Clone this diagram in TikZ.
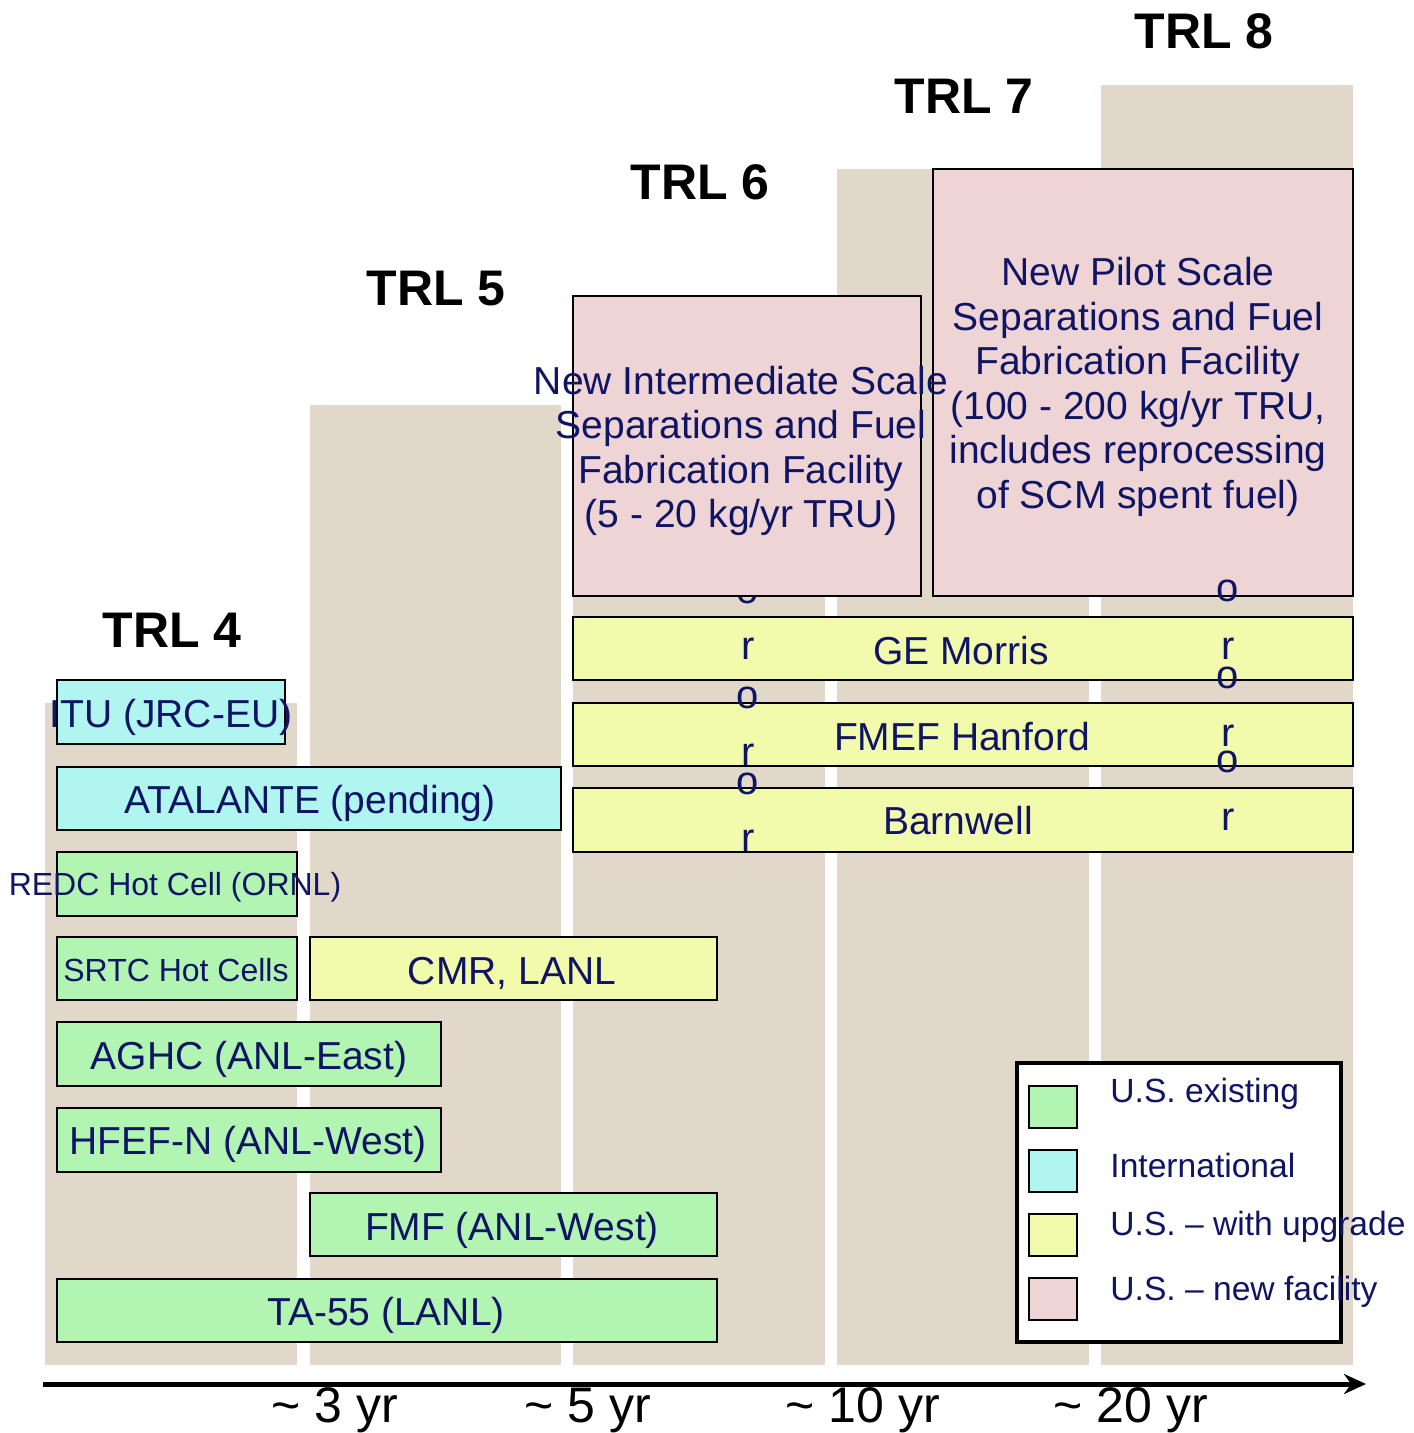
\documentclass[tikz,border=0pt]{standalone}
\usepackage{fontspec}
\setmainfont{Liberation Sans}
\usetikzlibrary{arrows.meta}
\definecolor{beige}{RGB}{225,216,201}
\definecolor{gfill}{RGB}{178,245,178}
\definecolor{cfill}{RGB}{176,245,240}
\definecolor{yfill}{RGB}{242,250,172}
\definecolor{pfill}{RGB}{238,212,212}
\definecolor{navy}{RGB}{16,20,100}
\tikzset{
  col/.style={fill=beige, draw=none},
  gbox/.style={draw=black, line width=1pt, fill=gfill},
  cbox/.style={draw=black, line width=1pt, fill=cfill},
  ybox/.style={draw=black, line width=1pt, fill=yfill},
  pbox/.style={draw=black, line width=1pt, fill=pfill},
  lbl/.style={text=navy, font=\fontsize{19.5}{23}\selectfont, inner sep=0pt, anchor=base},
  slbl/.style={text=navy, font=\fontsize{16}{19}\selectfont, inner sep=0pt, anchor=base},
  plbl/.style={text=navy, font=\fontsize{19.5}{22.3}\selectfont, inner sep=0pt, anchor=center, align=center},
  orl/.style={text=navy, font=\fontsize{20}{23}\selectfont, inner sep=0pt, text height=1ex, text depth=0pt, anchor=mid},
  trl/.style={text=black, font=\fontsize{25}{30}\selectfont\bfseries, inner sep=0pt, anchor=base},
  axl/.style={text=black, font=\fontsize{25}{29}\selectfont, inner sep=0pt, anchor=base},
  leg/.style={text=navy, font=\fontsize{16.8}{20}\selectfont, inner sep=0pt, anchor=base west},
}
\begin{document}
\begin{tikzpicture}[x=0.5pt, y=-0.5pt]
\useasboundingbox (0,0) rectangle (1413,1433);
% background columns
\fill[col] (45,703) rectangle (297,1365);
\fill[col] (310,405) rectangle (561,1365);
\fill[col] (573,296) rectangle (825,1365);
\fill[col] (837,169) rectangle (1089,1365);
\fill[col] (1101,85) rectangle (1353,1365);
% TRL labels
\node[trl] (trl4) at (172,647) {TRL 4};
\node[trl] (trl5) at (436,306) {TRL 5};
\node[trl] (trl6) at (700,200) {TRL 6};
\node[trl] (trl7) at (964,114) {TRL 7};
\node[trl] (trl8) at (1204,49) {TRL 8};
% boxes
\draw[cbox] (57,680) rectangle (285,744);
\draw[cbox] (57,767) rectangle (561,830);
\draw[gbox] (57,852) rectangle (297,916);
\draw[gbox] (57,937) rectangle (297,1000);
\draw[ybox] (310,937) rectangle (717,1000);
\draw[gbox] (57,1022) rectangle (441,1086);
\draw[gbox] (57,1108) rectangle (441,1172);
\draw[gbox] (310,1193) rectangle (717,1256);
\draw[gbox] (57,1279) rectangle (717,1342);
\draw[ybox] (573,617) rectangle (1353,680);
\draw[ybox] (573,703) rectangle (1353,766);
\draw[ybox] (573,788) rectangle (1353,852);
% stray letters (left column, under pink box)
\node[orl] (oa1) at (748,598) {o};
\node[orl] (ra1) at (748,654) {r};
\node[orl] (oa2) at (748,703) {o};
\node[orl] (ra2) at (748,760) {r};
\node[orl] (oa3) at (748,789) {o};
\node[orl] (ra3) at (748,846) {r};
% pink boxes
\draw[pbox] (573,296) rectangle (921,596);
\draw[pbox] (933,169) rectangle (1353,596);
% labels
\node[lbl] (itu) at (171,727) {ITU (JRC-EU)};
\node[lbl] (atal) at (310,813) {ATALANTE (pending)};
\node[slbl] (redc) at (175,895) {REDC Hot Cell (ORNL)};
\node[slbl] (srtc) at (176,981) {SRTC Hot Cells};
\node[lbl] (cmr) at (512,984) {CMR, LANL};
\node[lbl] (aghc) at (249,1069) {AGHC (ANL-East)};
\node[lbl] (hfef) at (248,1154) {HFEF-N (ANL-West)};
\node[lbl] (fmf) at (512,1240) {FMF (ANL-West)};
\node[lbl] (ta55) at (386,1325) {TA-55 (LANL)};
\node[lbl] (gem) at (961,664) {GE Morris};
\node[lbl] (fmef) at (962,750) {FMEF Hanford};
\node[lbl] (barn) at (958,834) {Barnwell};
\node[plbl] (inter) at (741,451) {New Intermediate Scale\\Separations and Fuel\\Fabrication Facility\\(5 - 20 kg/yr TRU)};
\node[plbl] (pilot) at (1138,387) {New Pilot Scale\\Separations and Fuel\\Fabrication Facility\\(100 - 200 kg/yr TRU,\\includes reprocessing\\of SCM spent fuel)};
% stray letters (right column)
\node[orl] (ob1) at (1228,596) {o};
\node[orl] (rb1) at (1228,654) {r};
\node[orl] (ob2) at (1228,683) {o};
\node[orl] (rb2) at (1228,741) {r};
\node[orl] (ob3) at (1228,767) {o};
\node[orl] (rb3) at (1228,825) {r};
% legend
\draw[line width=2pt, fill=white] (1017,1063) rectangle (1341,1342);
\draw[gbox] (1029,1086) rectangle (1077,1128);
\draw[cbox] (1029,1150) rectangle (1077,1192);
\draw[ybox] (1029,1214) rectangle (1077,1256);
\draw[pbox] (1029,1278) rectangle (1077,1320);
\node[leg] (l1) at (1110,1102) {U.S. existing};
\node[leg] (l2) at (1110,1177) {International};
\node[leg] (l3) at (1110,1235) {U.S. – with upgrade};
\node[leg] (l4) at (1110,1300) {U.S. – new facility};
% axis
\coordinate (ax0) at (43,1384);
\coordinate (ax1) at (1366,1384);
\draw[line width=2.5pt, -{Stealth[length=11pt,width=10pt]}] (ax0) -- (ax1);
\node[axl] (y3) at (335,1422) {\textasciitilde\ 3 yr};
\node[axl] (y5) at (588,1422) {\textasciitilde\ 5 yr};
\node[axl] (y10) at (863,1422) {\textasciitilde\ 10 yr};
\node[axl] (y20) at (1131,1422) {\textasciitilde\ 20 yr};
\end{tikzpicture}
\end{document}
